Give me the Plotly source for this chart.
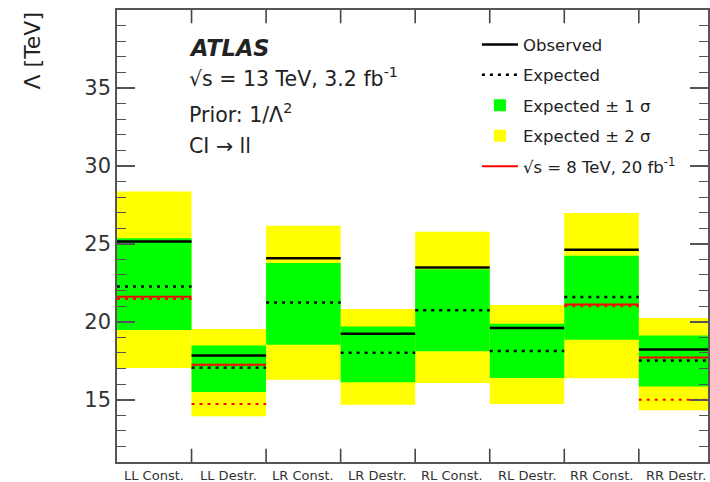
import plotly.graph_objects as go

categories = ["LL Const.", "LL Destr.", "LR Const.", "LR Destr.",
              "RL Const.", "RL Destr.", "RR Const.", "RR Destr."]
observed = [25.15, 17.84, 24.08, 19.23, 23.48, 19.59, 24.62, 18.21]
expected = [22.26, 17.05, 21.24, 18.01, 20.73, 18.12, 21.58, 17.52]
sigma1_lo = [19.47, 15.49, 18.53, 16.11, 18.10, 16.39, 18.85, 15.85]
sigma1_hi = [25.36, 18.48, 23.76, 19.70, 23.37, 19.87, 24.23, 19.12]
sigma2_lo = [17.03, 13.93, 16.28, 14.68, 16.07, 14.72, 16.37, 14.32]
sigma2_hi = [28.35, 19.53, 26.15, 20.81, 25.77, 21.07, 26.97, 20.24]
obs_8tev = [21.60, 17.24, None, None, None, None, 21.11, 17.71]
exp_8tev = [21.45, 14.72, None, None, None, None, 21.00, 15.00]

centers = [i + 0.5 for i in range(len(categories))]
edges = list(range(1, len(categories)))
XRANGE = [0, 7.928]
YRANGE = [11, 40]
EDGE_TICK = 0.85  # length of the bin-boundary tick marks, in axis units


def segments(vals):
    xs, ys = [], []
    for i, v in enumerate(vals):
        if v is None:
            continue
        xs += [i, i + 1, None]
        ys += [v, v, None]
    return xs, ys


fig = go.Figure()
fig.add_trace(go.Bar(
    x=centers, y=[h - l for h, l in zip(sigma2_hi, sigma2_lo)], base=sigma2_lo,
    width=1, marker=dict(color="#FFFF00", line=dict(width=0)),
    name="Expected ± 2 σ", legendrank=4, legendgroup="d"))
fig.add_trace(go.Bar(
    x=centers, y=[h - l for h, l in zip(sigma1_hi, sigma1_lo)], base=sigma1_lo,
    width=1, marker=dict(color="#00FF00", line=dict(width=0)),
    name="Expected ± 1 σ", legendrank=3, legendgroup="c"))
ox, oy = segments(observed)
fig.add_trace(go.Scatter(x=ox, y=oy, mode="lines",
                         line=dict(color="black", width=2.5),
                         name="Observed", legendrank=1, legendgroup="a"))
ex, ey = segments(expected)
fig.add_trace(go.Scatter(x=ex, y=ey, mode="lines",
                         line=dict(color="black", width=2.5, dash="3px,5px"),
                         name="Expected", legendrank=2, legendgroup="b"))
rx, ry = segments(obs_8tev)
fig.add_trace(go.Scatter(x=rx, y=ry, mode="lines",
                         line=dict(color="#FF0000", width=2),
                         name="√s = 8 TeV, 20 fb<sup>-1</sup>", legendrank=5,
                         legendgroup="e"))
qx, qy = segments(exp_8tev)
fig.add_trace(go.Scatter(x=qx, y=qy, mode="lines",
                         line=dict(color="#FF0000", width=2, dash="3px,5px"),
                         showlegend=False, legendgroup="e"))

# bin-boundary tick marks on the bottom and top frame
tx, ty = [], []
for e in edges:
    tx += [e, e, None, e, e, None]
    ty += [YRANGE[0], YRANGE[0] + EDGE_TICK, None,
           YRANGE[1], YRANGE[1] - EDGE_TICK, None]
fig.add_trace(go.Scatter(x=tx, y=ty, mode="lines", showlegend=False,
                         hoverinfo="skip", cliponaxis=False,
                         line=dict(color="#444444", width=1.6)))

axis_col = "#555555"
FONT = "DejaVu Sans, Liberation Sans, Arial, sans-serif"
fig.update_layout(
    width=710, height=482,
    margin=dict(l=117, r=0, t=10, b=20),
    plot_bgcolor="white", paper_bgcolor="white",
    barmode="overlay",
    font=dict(family=FONT, color="#222222"),
    xaxis=dict(
        range=XRANGE, showticklabels=False, ticks="",
        showgrid=False, zeroline=False,
        showline=True, linecolor=axis_col, linewidth=1.5, mirror=True,
    ),
    yaxis=dict(
        range=YRANGE, dtick=5, tick0=0,
        ticks="inside", ticklen=18, tickwidth=1.5, tickcolor=axis_col,
        showgrid=False, zeroline=False,
        showline=True, linecolor=axis_col, linewidth=1.5, mirror="ticks",
        tickfont=dict(size=21, color="#333333"),
        minor=dict(dtick=1, ticks="inside", ticklen=9, tickcolor=axis_col,
                   tickwidth=1.2, showgrid=False),
    ),
    legend=dict(
        x=0.609, y=0.962, xanchor="left", yanchor="top",
        font=dict(size=16.5, color="#222222"), itemwidth=36,
        bgcolor="rgba(0,0,0,0)", traceorder="grouped", tracegroupgap=6,
    ),
    showlegend=True,
)

# category labels centred in each bin, below the axis
for cx, label in zip(centers, categories):
    fig.add_annotation(text=label, xref="x", yref="paper", x=cx, y=-0.0288,
                       xanchor="center", yanchor="middle", showarrow=False,
                       font=dict(size=13, color="#333333"))

annots = [
    dict(text="<b><i>ATLAS</i></b>", y=0.916, size=22.5),
    dict(text="√s = 13 TeV, 3.2 fb<sup>-1</sup>", y=0.850, size=20.5),
    dict(text="Prior: 1/Λ<sup>2</sup>", y=0.770, size=20.5),
    dict(text="CI → ll", y=0.699, size=20.5),
]
for a in annots:
    fig.add_annotation(text=a["text"], xref="paper", yref="paper",
                       x=0.118, y=a["y"], xanchor="left", yanchor="middle",
                       showarrow=False, font=dict(size=a["size"], color="#222222"))

fig.add_annotation(text="Λ [TeV]", xref="paper", yref="paper",
                   x=-0.143, y=0.9115, xanchor="center", yanchor="middle",
                   textangle=-90, showarrow=False,
                   font=dict(size=22, color="#222222"))

fig.write_html("out.html")
